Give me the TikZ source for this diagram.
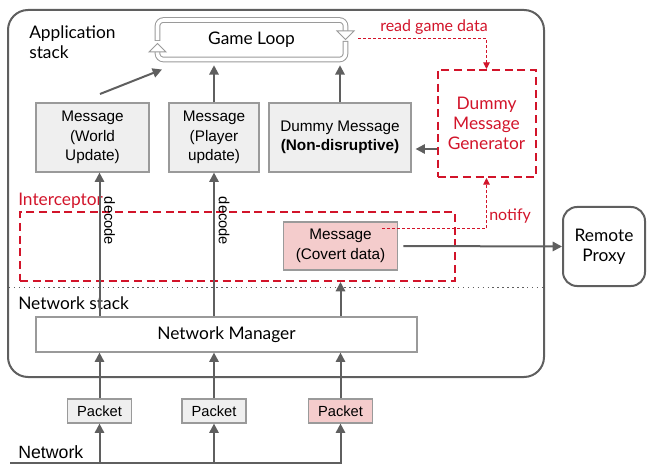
\documentclass[tikz,border=0pt]{standalone}
\usepackage{fontspec}
\setmainfont{Lato}
\newfontfamily\arial{Liberation Sans}
\usetikzlibrary{arrows.meta,calc}
\definecolor{dg}{HTML}{5F5F5F}
\definecolor{bg}{HTML}{9A9A9A}
\definecolor{lg}{HTML}{EFEFEF}
\definecolor{pk}{HTML}{F4CCCC}
\definecolor{rd}{HTML}{D2142A}
\tikzset{
  msg/.style={draw=bg, line width=0.9pt, fill=lg, align=center, inner sep=0pt,
    font=\arial\fontsize{11.5}{14.6}\selectfont},
  pkt/.style={draw=bg, line width=0.9pt, fill=lg, inner sep=0pt,
    minimum width=48pt, minimum height=18pt, font=\arial\fontsize{11}{13}\selectfont},
  arr/.style={draw=dg, line width=1.5pt, -{Triangle[length=7pt,width=7pt]}},
  ln/.style={draw=dg, line width=1.5pt},
  rbox/.style={draw=rd, line width=1.5pt, dash pattern=on 6pt off 3.5pt},
  rthin/.style={draw=rd, line width=0.75pt, dash pattern=on 2.25pt off 1.5pt,
    -{Triangle[length=5pt,width=5pt]}},
  lato/.style={font=\fontsize{13}{15}\selectfont},
  redtxt/.style={text=rd, font=\fontsize{13}{15}\selectfont},
}
\begin{document}
\begin{tikzpicture}[x=0.75pt,y=-0.75pt]
\useasboundingbox (0,0) rectangle (648,466);
% outer application stack
\draw[dg, line width=1.5pt, rounded corners=15pt] (8,10) rectangle (544,377);
\node[lato, anchor=west, align=left, inner sep=0pt] (apptitle) at (29,42) {Application\\stack};
% columns
\coordinate (c1) at (99.5,0);
\coordinate (c2) at (214,0);
\coordinate (c3) at (340.5,0);
% game loop
\node[lato, minimum width=144.75pt, minimum height=37.5pt, inner sep=0pt] (gl) at (251.5,40) {Game Loop};
\begin{scope}[line width=0.75pt]
  \draw[bg, line width=4.2pt, rounded corners=4.5pt] (157.5,41) -- (157.5,20) -- (345.5,20) -- (345.5,32);
  \draw[white, line width=2.7pt, rounded corners=4.5pt] (157.5,40.2) -- (157.5,20) -- (345.5,20) -- (345.5,32.5);
  \draw[bg, fill=white, line join=miter] (337,31) -- (354,31) -- (345.5,39.5) -- cycle;
  \draw[bg, line width=4.2pt, rounded corners=4.5pt] (345.5,41) -- (345.5,59.5) -- (157.5,59.5) -- (157.5,52);
  \draw[white, line width=2.7pt, rounded corners=4.5pt] (345.5,41.8) -- (345.5,59.5) -- (157.5,59.5) -- (157.5,51.5);
  \draw[bg, fill=white, line join=miter] (149,52) -- (166,52) -- (157.5,43.5) -- cycle;
\end{scope}
% messages
\node[msg, minimum width=84.75pt, minimum height=51.75pt] (wu) at (92.5,137.5) {Message\\(World\\Update)};
\node[msg, minimum width=67.5pt, minimum height=51.75pt] (pu) at (214,137.5) {Message\\(Player\\update)};
\node[msg, minimum width=106.5pt, minimum height=51.75pt] (dm) at (340,137.5) {Dummy Message\\\textbf{(Non-disruptive)}};
% generator
\node[rbox, text=rd, align=center, minimum width=73.5pt, minimum height=80.25pt,
  font=\fontsize{13}{15}\selectfont] (gen) at (486.5,123.5) {Dummy\\Message\\Generator};
% interceptor
\node[rbox, minimum width=326.25pt, minimum height=51.75pt] (ic) at (237.5,246.5) {};
\node[redtxt, anchor=west, inner sep=0pt] (iclabel) at (18,201) {Interceptor};
\node[msg, fill=pk, minimum width=85.5pt, minimum height=36pt] (cv) at (340.5,246) {Message\\(Covert data)};
% remote proxy
\node[draw=dg, line width=1.5pt, rounded corners=10.5pt, lato, align=center,
  minimum width=61.5pt, minimum height=59.25pt] (rp) at (604,246.5) {Remote\\Proxy};
% dotted separator
\coordinate (d0) at (9,287.5);
\coordinate (d1) at (544,287.5);
\draw[dg, line width=1.1pt, dash pattern=on 1.1pt off 2.6pt] (d0) -- (d1);
\node[lato, anchor=west, inner sep=0pt] (nslabel) at (18,303) {Network stack};
% network manager
\node[draw=bg, line width=0.9pt, fill=white, lato, minimum width=285.75pt, minimum height=26.25pt] (nm) at (226.5,334.5) {Network Manager};
% packets
\node[pkt] (p1) at (99.5,411) {Packet};
\node[pkt] (p2) at (214,411) {Packet};
\node[pkt, fill=pk] (p3) at (340.5,411) {Packet};
% network line
\coordinate (n0) at (10,463);
\coordinate (n3) at (341.5,463);
\draw[ln] (n0) -- (n3);
\node[anchor=west, inner sep=0pt, font=\arial\fontsize{13.3}{15}\selectfont] (netlabel) at (18,452) {Network};
% arrows network -> packets -> manager
\draw[arr] (p1.south |- n0) -- (p1.south);
\draw[arr] (p2.south |- n0) -- (p2.south);
\draw[arr] (p3.south |- n0) -- (p3.south);
\draw[arr] (p1.north) -- (nm.south -| p1.north);
\draw[arr] (p2.north) -- (nm.south -| p2.north);
\draw[arr] (p3.north) -- (nm.south -| p3.north);
% manager -> messages
\draw[arr] (nm.north -| c1) -- (wu.south -| c1);
\draw[arr] (nm.north -| c2) -- (pu.south -| c2);
\draw[arr] (nm.north -| c3) -- (ic.south -| c3);
\node[rotate=-90, anchor=south, inner sep=0pt, font=\arial\fontsize{11}{13}\selectfont] (dec1) at (104,221) {decode};
\node[rotate=-90, anchor=south, inner sep=0pt, font=\arial\fontsize{11}{13}\selectfont] (dec2) at (218.5,221) {decode};
% messages -> game loop
\coordinate (wuA) at (100,94);
\coordinate (glA) at (162,69.5);
\draw[arr] (wuA) -- (glA);
\draw[arr] (pu.north) -- (pu.north |- gl.south);
\draw[arr] (dm.north) -- (dm.north |- gl.south);
% generator -> dummy
\coordinate (ya) at (0,149);
\draw[arr, shorten >=3pt] (gen.west |- ya) -- (dm.east |- ya);
% covert -> remote proxy
\draw[arr, shorten <=4pt] (cv.east) -- (rp.west);
% read game data
\coordinate (rg) at (358,39);
\draw[rthin] (rg) -| (gen.north);
\node[text=rd, font=\fontsize{12}{14}\selectfont, inner sep=0pt] (rgd) at (434,27) {read game data};
% notify
\coordinate (nt) at (382,229);
\draw[rthin] (nt) -| (gen.south);
\node[text=rd, font=\fontsize{12}{14}\selectfont, anchor=west, inner sep=0pt] (ntf) at (489,216) {notify};
\end{tikzpicture}
\end{document}
